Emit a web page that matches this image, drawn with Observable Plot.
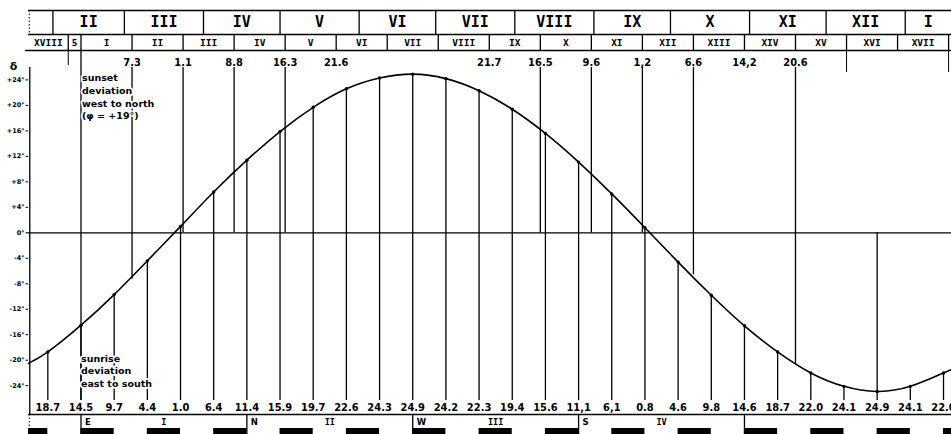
<!DOCTYPE html>
<html><head><meta charset="utf-8">
<script src="https://cdn.jsdelivr.net/npm/d3@7"></script>
<script src="https://cdn.jsdelivr.net/npm/@observablehq/plot@0.6"></script>
<style>body{margin:0;background:#fff;overflow:hidden}#chart svg{display:block}</style>
</head><body><div id="chart"></div>
<script>
// ---------- data ----------
const monthNames = ["II","III","IV","V","VI","VII","VIII","IX","X","XI","XII","I"];
const monthStartDays = [31,59,90,120,151,181,212,243,273,304,334,365];
const veintenaNames = ["XVIII","5","I","II","III","IV","V","VI","VII","VIII","IX","X","XI","XII","XIII","XIV","XV","XVI","XVII"];
const veintenaStartDays = [17,37,42,62,82,102,122,142,162,182,202,222,242,262,282,302,322,342,362];
const veintenaEndDay = 382;
const sunsetDays = [62,82,102,122,142,202,222,242,262,282,302,322];
const sunsetDeviation = [-7.3,1.1,8.8,16.3,21.6,21.7,16.5,9.6,1.2,-6.6,-14.2,-20.6];
const sunsetLabels = ["7.3","1.1","8.8","16.3","21.6","21.7","16.5","9.6","1,2","6.6","14,2","20.6"];
const sunsetLineMissing = [142,202,302];
const trecenaDays = [29,42,55,68,81,94,107,120,133,146,159,172,185,198,211,224,237,250,263,276,289,302,315,328,341,354,367,380];
const sunriseDeviation = [-18.7,-14.5,-9.7,-4.4,1.0,6.4,11.4,15.9,19.7,22.6,24.3,24.9,24.2,22.3,19.4,15.6,11.1,6.1,0.8,-4.6,-9.8,-14.6,-18.7,-22.0,-24.1,-24.9,-24.1,-22.0];
const sunriseLabels = ["18.7","14.5","9.7","4.4","1.0","6.4","11.4","15.9","19.7","22.6","24.3","24.9","24.2","22.3","19.4","15.6","11,1","6,1","0.8","4.6","9.8","14.6","18.7","22.0","24.1","24.9","24.1","22.0"];
const winterSolsticeDay = 354;
const curveStart = [21.4, -20.5];
const curveEnd = [383.1, -21.5];
const darkTrecenaStarts = [16,42,68,94,120,146,172,198,224,250,276,302,328,354,380];
const quarterNames = ["E","N","W","S"];
const quarterNumerals = ["I","II","III","IV"];
const quarterStartDays = [42,107,172,237,302];
const yTicks = [24,20,16,12,8,4,0,-4,-8,-12,-16,-20,-24];

// ---------- layout helpers (pixel -> scale units) ----------
const X0 = 80.5, KX = 2.5518, Y0 = 232.3, KY = 6.3708;
const pd = p => 42 + (p - X0) / KX;     // pixel x -> day
const py = p => (Y0 - p) / KY;          // pixel y -> degrees
const LEFT = pd(28), RIGHT = pd(951);

const NUM = "'Liberation Sans Narrow','DejaVu Sans Condensed','Arial Narrow',sans-serif";
const ROM = "'DejaVu Sans Mono',monospace";
const TXT = "'DejaVu Sans',sans-serif";

const curvePts = [curveStart, ...trecenaDays.map((d, i) => [d, sunriseDeviation[i]]), curveEnd];

const monthCells = monthStartDays.map((d, i) => ({
  name: monthNames[i], a: d, b: i < monthStartDays.length - 1 ? monthStartDays[i + 1] : RIGHT
}));
const veintenaCells = veintenaStartDays.map((d, i) => ({
  name: veintenaNames[i], a: Math.max(d, LEFT),
  b: i < veintenaStartDays.length - 1 ? veintenaStartDays[i + 1] : veintenaEndDay
}));
const sunset = sunsetDays.map((d, i) => ({day: d, v: sunsetDeviation[i], label: sunsetLabels[i]}));
const sunrise = trecenaDays.map((d, i) => ({day: d, v: sunriseDeviation[i], label: sunriseLabels[i]}));
const bars = darkTrecenaStarts.map(d => ({a: Math.max(d, LEFT), b: Math.min(d + 13, RIGHT)}));
const quarters = quarterNames.map((n, i) => ({name: n, num: quarterNumerals[i], a: quarterStartDays[i], b: quarterStartDays[i + 1]}));

const sw = 1.3;
const halo = {stroke: "white", strokeWidth: 3.5, paintOrder: "stroke", fill: "black"};

const chart = Plot.plot({
  width: 951, height: 434,
  marginTop: 0, marginBottom: 0, marginLeft: 0, marginRight: 0,
  x: {type: "linear", domain: [42, 380], range: [80.5, 943], axis: null},
  y: {type: "linear", domain: [-24, 24], range: [Y0 + 24 * KY, Y0 - 24 * KY], axis: null},
  style: {background: "white", overflow: "hidden"},
  marks: [
    // top calendar strips
    Plot.ruleY([py(10), py(34)], {y: d => d, x1: LEFT, x2: RIGHT, strokeWidth: sw}),
    Plot.ruleY([py(50)], {y: d => d, x1: pd(25), x2: RIGHT, strokeWidth: sw}),
    Plot.ruleX(monthStartDays, {x: d => d, y1: py(10), y2: py(34), strokeWidth: sw}),
    Plot.ruleX([LEFT + 0.3], {x: d => d, y1: py(10), y2: py(34), strokeWidth: 1, strokeDasharray: "1.5,2"}),
    Plot.ruleX([...veintenaStartDays.slice(1), veintenaEndDay], {x: d => d, y1: py(34), y2: py(50), strokeWidth: sw}),
    Plot.ruleX([37], {x: d => d, y1: py(50), y2: py(65), strokeWidth: 1}),
    Plot.ruleX([342, veintenaEndDay], {x: d => d, y1: py(50), y2: py(72), strokeWidth: 1}),
    Plot.text(monthCells, {x: d => (d.a + d.b) / 2, y: py(22), text: "name", fontFamily: ROM, fontWeight: "bold", fontSize: 15}),
    Plot.text(veintenaCells, {x: d => (d.a + d.b) / 2, y: py(42.5), text: "name", fontFamily: ROM, fontWeight: "bold", fontSize: 9.5}),

    // axes
    Plot.ruleX([LEFT + 0.5], {x: d => d, y1: py(67), y2: py(414), strokeWidth: sw}),
    Plot.ruleY([0], {y: d => d, x1: LEFT, x2: RIGHT, strokeWidth: sw}),
    Plot.ruleY([py(414)], {y: d => d, x1: LEFT, x2: RIGHT, strokeWidth: sw}),
    Plot.ruleY(yTicks, {y: d => d, x1: pd(25.5), x2: LEFT, strokeWidth: 1}),
    Plot.text(yTicks, {x: LEFT, y: d => d, dx: -4, textAnchor: "end", text: d => (d > 0 ? "+" : d < 0 ? "-" : "") + Math.abs(d) + "°", fontFamily: TXT, fontWeight: "bold", fontSize: 6.5}),
    Plot.text(["δ"], {x: pd(13), y: py(66), text: d => d, fontFamily: TXT, fontSize: 11, fontWeight: "bold"}),

    // veintena I start line
    Plot.ruleX([42], {x: d => d, y1: py(50), y2: py(400), strokeWidth: sw}),

    // sunset (top) lines
    Plot.ruleX(sunset.filter(d => !sunsetLineMissing.includes(d.day)), {x: "day", y1: py(67), y2: d => Math.min(d.v, 0), strokeWidth: sw}),
    // sunrise (bottom) lines
    Plot.ruleX(sunrise, {x: "day", y1: d => d.day === winterSolsticeDay ? 0 : d.v, y2: py(400), strokeWidth: sw}),

    // curve
    Plot.line(curvePts, {x: d => d[0], y: d => d[1], curve: "natural", strokeWidth: 1.6}),
    Plot.dot(sunrise, {x: "day", y: "v", r: 1.7, fill: "black"}),

    // value labels
    Plot.text(sunset, {x: "day", y: py(61.5), text: "label", fontFamily: NUM, fontWeight: "bold", fontSize: 11}),
    Plot.text(sunrise, {x: "day", y: py(407), text: "label", fontFamily: NUM, fontWeight: "bold", fontSize: 11}),

    // annotations
    Plot.text(["sunset\ndeviation\nwest to north\n(φ = +19°)"], {x: 42, y: py(71), dx: 1, text: d => d, textAnchor: "start", lineAnchor: "top", lineHeight: 1.36, fontFamily: TXT, fontWeight: "bold", fontSize: 9.5, ...halo}),
    Plot.text(["sunrise\ndeviation\neast to south"], {x: 42, y: py(352.5), dx: 0, text: d => d, textAnchor: "start", lineAnchor: "top", lineHeight: 1.32, fontFamily: TXT, fontWeight: "bold", fontSize: 9.5, ...halo}),

    // bottom strip
    Plot.ruleX(quarterStartDays, {x: d => d, y1: py(414), y2: py(434), strokeWidth: sw}),
    Plot.ruleX([LEFT + 0.3], {x: d => d, y1: py(414), y2: py(428), strokeWidth: 1, strokeDasharray: "1.5,2"}),
    Plot.rect(bars, {x1: "a", x2: "b", y1: py(428), y2: py(434), fill: "black"}),
    Plot.text(quarters, {x: "a", y: py(422), dx: 4, text: "name", textAnchor: "start", fontFamily: TXT, fontWeight: "bold", fontSize: 8.5}),
    Plot.text(quarters, {x: d => (d.a + d.b) / 2, y: py(422), text: "num", fontFamily: ROM, fontWeight: "bold", fontSize: 8.5})
  ]
});
document.getElementById("chart").appendChild(chart);
</script>
</body></html>
